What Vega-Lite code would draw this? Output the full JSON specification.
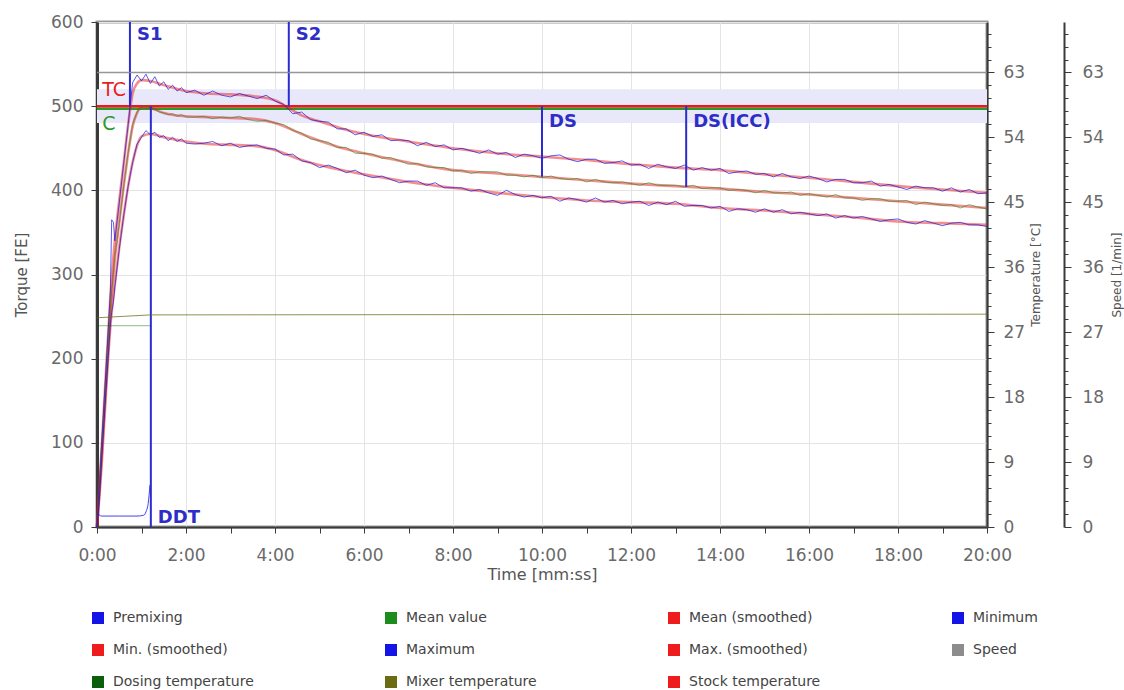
{
"$schema": "https://vega.github.io/schema/vega-lite/v6.json",
"width": 890,
"height": 505,
"autosize": {"type": "none"},
"padding": {"left": 97, "top": 22, "right": 137, "bottom": 163},
"background": "white",
"config": {
  "view": {"stroke": "#9a9a9a", "strokeWidth": 3},
  "axis": {"labelFont": "DejaVu Sans", "titleFont": "DejaVu Sans", "labelFontSize": 17, "titleFontSize": 14, "titleFontWeight": "normal", "labelColor": "#6a6a6a", "titleColor": "#555555", "domainColor": "#3a3a3a", "tickColor": "#3a3a3a", "gridColor": "#e4e4e4", "gridWidth": 1},
  "legend": {"labelFont": "DejaVu Sans", "labelFontSize": 14, "labelColor": "#444444"},
  "text": {"font": "DejaVu Sans"}
},
"layer": [
  {
    "layer": [
      {
        "data": {"values": [{"t0": 0, "t1": 20, "lo": 480, "hi": 520}]},
        "mark": {"type": "rect", "color": "#e9e8fa"},
        "encoding": {
          "x": {"field": "t0", "type": "quantitative", "scale": {"domain": [0, 20], "nice": false},
            "axis": {"title": "Time [mm:ss]", "values": [0,1,2,3,4,5,6,7,8,9,10,11,12,13,14,15,16,17,18,19,20], "labelExpr": "datum.value % 2 === 0 ? datum.value + ':00' : ''", "grid": true, "gridOpacity": {"condition": {"test": "datum.value % 2 === 0", "value": 1}, "value": 0}, "tickSize": 6, "labelPadding": 14, "titlePadding": 3, "labelFlush": false, "labelOverlap": false, "domainWidth": 2, "titleFontSize": 16}},
          "x2": {"field": "t1"},
          "y": {"field": "lo", "type": "quantitative", "scale": {"domain": [0, 600], "nice": false},
            "axis": {"title": "Torque [FE]", "values": [0,100,200,300,400,500,600], "grid": true, "tickSize": 6, "labelPadding": 8, "titlePadding": 21, "domainWidth": 3, "titleFontSize": 15, "labelOverlap": false}},
          "y2": {"field": "hi"}
        }
      },
      {
        "data": {"name": "premix", "values": [{"t":0.02,"p":16},{"t":0.1,"p":13},{"t":0.5,"p":13},{"t":0.9,"p":13},{"t":1.05,"p":14},{"t":1.1,"p":18},{"t":1.15,"p":28},{"t":1.19,"p":50}]},
        "mark": {"type": "point", "shape": "square", "filled": true, "size": 0, "opacity": 1},
        "encoding": {
          "x": {"field": "t", "type": "quantitative", "scale": {"domain": [0, 20], "nice": false}},
          "y": {"field": "p", "type": "quantitative", "scale": {"domain": [0, 600], "nice": false}},
          "color": {"datum": "Premixing", "type": "nominal",
            "scale": {"domain": ["Premixing","Mean value","Mean (smoothed)","Minimum","Min. (smoothed)","Maximum","Max. (smoothed)","Speed","Dosing temperature","Mixer temperature","Stock temperature"], "range": ["#1414e6","#1c8c1c","#ee1c1c","#1414e6","#ee1c1c","#1414e6","#ee1c1c","#8c8c8c","#0b5e0b","#6b6b14","#ee1c1c"]},
            "legend": {"orient": "none", "legendX": -6, "legendY": 589, "columns": 4, "direction": "horizontal", "symbolType": "square", "symbolSize": 144, "symbolOpacity": 1, "symbolStrokeWidth": 0, "gridAlign": "each", "columnPadding": 130, "rowPadding": 18, "labelOffset": 8}}
        }
      },
      {
        "data": {"values": [{"t": 0, "v": 497}, {"t": 20, "v": 497}]},
        "mark": {"type": "line", "stroke": "#2a9a2a", "strokeWidth": 2.5},
        "encoding": {
          "x": {"field": "t", "type": "quantitative", "scale": {"domain": [0, 20], "nice": false}},
          "y": {"field": "v", "type": "quantitative", "scale": {"domain": [0, 600], "nice": false}}
        }
      },
      {
        "data": {"values": [{"t": 0, "v": 500}, {"t": 20, "v": 500}]},
        "mark": {"type": "line", "stroke": "#f01818", "strokeWidth": 2.5},
        "encoding": {
          "x": {"field": "t", "type": "quantitative", "scale": {"domain": [0, 20], "nice": false}},
          "y": {"field": "v", "type": "quantitative", "scale": {"domain": [0, 600], "nice": false}}
        }
      },
      {
        "data": {"name": "smooth", "values": [
          {"t":0,"a":0,"m":0,"b":0},{"t":0.1,"a":90,"m":80,"b":70},{"t":0.2,"a":182,"m":168,"b":158},{"t":0.3,"a":272,"m":255,"b":238},
          {"t":0.4,"a":340,"m":318,"b":288},{"t":0.5,"a":388,"m":362,"b":332},{"t":0.6,"a":432,"m":405,"b":370},{"t":0.7,"a":478,"m":444,"b":405},
          {"t":0.8,"a":515,"m":476,"b":433},{"t":0.9,"a":527,"m":492,"b":453},{"t":1.0,"a":531,"m":499,"b":464},{"t":1.2,"a":530,"m":498,"b":467},
          {"t":1.5,"a":525,"m":492,"b":463},{"t":2.0,"a":518,"m":488,"b":458},{"t":2.5,"a":515,"m":487,"b":455},{"t":3.0,"a":514,"m":486,"b":454},
          {"t":3.5,"a":512,"m":485,"b":453},{"t":4.0,"a":507,"m":480,"b":448},{"t":4.3,"a":498,"m":474,"b":442},{"t":4.6,"a":489,"m":467,"b":436},
          {"t":5.0,"a":482,"m":459,"b":430},{"t":5.6,"a":472,"m":449,"b":423},{"t":6.0,"a":467,"m":444,"b":419},{"t":7.0,"a":458,"m":433,"b":410},
          {"t":8.0,"a":450,"m":424,"b":403},{"t":9.0,"a":444,"m":420,"b":397},{"t":10.0,"a":440,"m":416,"b":392},{"t":11.0,"a":436,"m":412,"b":388},
          {"t":12.0,"a":431,"m":408,"b":386},{"t":13.0,"a":427,"m":405,"b":384},{"t":14.0,"a":424,"m":402,"b":379},{"t":15.0,"a":419,"m":398,"b":376},
          {"t":16.0,"a":415,"m":395,"b":372},{"t":17.0,"a":410,"m":391,"b":368},{"t":18.0,"a":405,"m":387,"b":363},{"t":19.0,"a":401,"m":383,"b":361},
          {"t":20.0,"a":397,"m":379,"b":359}]},
        "layer": [
          {
            "mark": {"type": "line", "strokeWidth": 2.6, "strokeOpacity": 0.5, "interpolate": "monotone"},
            "encoding": {
              "x": {"field": "t", "type": "quantitative", "scale": {"domain": [0, 20], "nice": false}},
              "y": {"field": "a", "type": "quantitative", "scale": {"domain": [0, 600], "nice": false}},
              "color": {"datum": "Max. (smoothed)", "type": "nominal",
                "scale": {"domain": ["Premixing","Mean value","Mean (smoothed)","Minimum","Min. (smoothed)","Maximum","Max. (smoothed)","Speed","Dosing temperature","Mixer temperature","Stock temperature"], "range": ["#1414e6","#1c8c1c","#ee1c1c","#1414e6","#ee1c1c","#1414e6","#ee1c1c","#8c8c8c","#0b5e0b","#6b6b14","#ee1c1c"]}}
            }
          },
          {
            "mark": {"type": "line", "strokeWidth": 2.6, "strokeOpacity": 0.5, "interpolate": "monotone"},
            "encoding": {
              "x": {"field": "t", "type": "quantitative", "scale": {"domain": [0, 20], "nice": false}},
              "y": {"field": "m", "type": "quantitative", "scale": {"domain": [0, 600], "nice": false}},
              "color": {"datum": "Mean (smoothed)", "type": "nominal",
                "scale": {"domain": ["Premixing","Mean value","Mean (smoothed)","Minimum","Min. (smoothed)","Maximum","Max. (smoothed)","Speed","Dosing temperature","Mixer temperature","Stock temperature"], "range": ["#1414e6","#1c8c1c","#ee1c1c","#1414e6","#ee1c1c","#1414e6","#ee1c1c","#8c8c8c","#0b5e0b","#6b6b14","#ee1c1c"]}}
            }
          },
          {
            "mark": {"type": "line", "strokeWidth": 2.6, "strokeOpacity": 0.5, "interpolate": "monotone"},
            "encoding": {
              "x": {"field": "t", "type": "quantitative", "scale": {"domain": [0, 20], "nice": false}},
              "y": {"field": "b", "type": "quantitative", "scale": {"domain": [0, 600], "nice": false}},
              "color": {"datum": "Min. (smoothed)", "type": "nominal",
                "scale": {"domain": ["Premixing","Mean value","Mean (smoothed)","Minimum","Min. (smoothed)","Maximum","Max. (smoothed)","Speed","Dosing temperature","Mixer temperature","Stock temperature"], "range": ["#1414e6","#1c8c1c","#ee1c1c","#1414e6","#ee1c1c","#1414e6","#ee1c1c","#8c8c8c","#0b5e0b","#6b6b14","#ee1c1c"]}}
            }
          }
        ]
      },
      {
        "data": {"name": "noisy", "values": [
          {"t":0,"a":0,"m":0,"b":0},{"t":0.05,"a":45,"m":35,"b":30},{"t":0.1,"a":95,"m":85,"b":75},{"t":0.2,"a":185,"m":170,"b":160},
          {"t":0.3,"a":280,"m":260,"b":240},{"t":0.33,"a":365,"m":280,"b":255},{"t":0.37,"a":362,"m":300,"b":268},{"t":0.4,"a":340,"m":320,"b":285},
          {"t":0.5,"a":385,"m":360,"b":330},{"t":0.6,"a":432,"m":405,"b":370},{"t":0.7,"a":478,"m":445,"b":405},{"t":0.8,"a":528,"m":478,"b":433},
          {"t":0.9,"a":537,"m":493,"b":455},{"t":1.0,"a":530,"m":499,"b":463},{"t":1.1,"a":538,"m":501,"b":471},{"t":1.2,"a":527,"m":498,"b":466},
          {"t":1.3,"a":535,"m":496,"b":469},{"t":1.4,"a":524,"m":493,"b":463},{"t":1.5,"a":529,"m":492,"b":465},{"t":1.6,"a":520,"m":490,"b":459},
          {"t":1.7,"a":525,"m":491,"b":463},{"t":1.8,"a":518,"m":488,"b":458},{"t":1.9,"a":522,"m":490,"b":461},{"t":2.0,"a":516,"m":487,"b":456},
          {"t":2.2,"a":519,"m":487,"b":455},{"t":2.4,"a":513,"m":488,"b":456},{"t":2.6,"a":518,"m":485,"b":458},{"t":2.8,"a":513,"m":487,"b":453},
          {"t":3.0,"a":511,"m":486,"b":456},{"t":3.2,"a":515,"m":488,"b":451},{"t":3.4,"a":512,"m":484,"b":453},{"t":3.6,"a":509,"m":482,"b":454},
          {"t":3.8,"a":513,"m":483,"b":450},{"t":4.0,"a":506,"m":480,"b":449},{"t":4.2,"a":502,"m":478,"b":442},{"t":4.4,"a":491,"m":471,"b":443},
          {"t":4.6,"a":493,"m":468,"b":435},{"t":4.8,"a":484,"m":461,"b":433},{"t":5.0,"a":482,"m":459,"b":427},{"t":5.2,"a":481,"m":457,"b":430},
          {"t":5.4,"a":473,"m":451,"b":426},{"t":5.6,"a":473,"m":451,"b":421},{"t":5.8,"a":466,"m":444,"b":424},{"t":6.0,"a":469,"m":444,"b":418},
          {"t":6.2,"a":464,"m":443,"b":415},{"t":6.4,"a":466,"m":438,"b":417},{"t":6.6,"a":459,"m":439,"b":413},{"t":6.8,"a":460,"m":435,"b":409},
          {"t":7.0,"a":459,"m":431,"b":411},{"t":7.2,"a":453,"m":432,"b":411},{"t":7.4,"a":457,"m":428,"b":406},{"t":7.6,"a":452,"m":427,"b":409},
          {"t":7.8,"a":454,"m":427,"b":403},{"t":8.0,"a":448,"m":423,"b":403},{"t":8.2,"a":450,"m":424,"b":403},{"t":8.4,"a":447,"m":420,"b":399},
          {"t":8.6,"a":444,"m":422,"b":401},{"t":8.8,"a":448,"m":422,"b":397},{"t":9.0,"a":443,"m":422,"b":394},{"t":9.2,"a":445,"m":418,"b":400},
          {"t":9.4,"a":439,"m":418,"b":395},{"t":9.6,"a":443,"m":416,"b":392},{"t":9.8,"a":441,"m":418,"b":394},{"t":10.0,"a":438,"m":415,"b":391},
          {"t":10.2,"a":441,"m":417,"b":393},{"t":10.4,"a":442,"m":414,"b":387},{"t":10.6,"a":437,"m":413,"b":391},{"t":10.8,"a":434,"m":414,"b":389},
          {"t":11.0,"a":437,"m":410,"b":386},{"t":11.2,"a":437,"m":413,"b":391},{"t":11.4,"a":432,"m":410,"b":386},{"t":11.6,"a":433,"m":409,"b":388},
          {"t":11.8,"a":435,"m":410,"b":384},{"t":12.0,"a":430,"m":408,"b":386},{"t":12.2,"a":431,"m":406,"b":387},{"t":12.4,"a":426,"m":409,"b":382},
          {"t":12.6,"a":431,"m":406,"b":386},{"t":12.8,"a":428,"m":406,"b":383},{"t":13.0,"a":426,"m":406,"b":387},{"t":13.2,"a":430,"m":404,"b":381},
          {"t":13.4,"a":424,"m":406,"b":382},{"t":13.6,"a":427,"m":402,"b":382},{"t":13.8,"a":424,"m":403,"b":379},{"t":14.0,"a":426,"m":403,"b":381},
          {"t":14.2,"a":420,"m":400,"b":375},{"t":14.4,"a":422,"m":401,"b":378},{"t":14.6,"a":423,"m":400,"b":377},{"t":14.8,"a":419,"m":397,"b":374},
          {"t":15.0,"a":420,"m":400,"b":378},{"t":15.2,"a":416,"m":397,"b":374},{"t":15.4,"a":420,"m":397,"b":377},{"t":15.6,"a":416,"m":398,"b":372},
          {"t":15.8,"a":414,"m":394,"b":374},{"t":16.0,"a":417,"m":396,"b":372},{"t":16.2,"a":414,"m":394,"b":370},{"t":16.4,"a":410,"m":392,"b":372},
          {"t":16.6,"a":413,"m":395,"b":367},{"t":16.8,"a":413,"m":391,"b":370},{"t":17.0,"a":409,"m":391,"b":367},{"t":17.2,"a":409,"m":388,"b":369},
          {"t":17.4,"a":411,"m":390,"b":366},{"t":17.6,"a":405,"m":390,"b":363},{"t":17.8,"a":407,"m":387,"b":365},{"t":18.0,"a":404,"m":387,"b":366},
          {"t":18.2,"a":401,"m":388,"b":362},{"t":18.4,"a":405,"m":383,"b":360},{"t":18.6,"a":403,"m":386,"b":364},{"t":18.8,"a":403,"m":384,"b":361},
          {"t":19.0,"a":399,"m":382,"b":358},{"t":19.2,"a":403,"m":383,"b":361},{"t":19.4,"a":398,"m":379,"b":362},{"t":19.6,"a":401,"m":383,"b":359},
          {"t":19.8,"a":396,"m":380,"b":359},{"t":20.0,"a":397,"m":378,"b":357}]},
        "layer": [
          {
            "mark": {"type": "line", "strokeWidth": 1, "strokeOpacity": 0.7},
            "encoding": {
              "x": {"field": "t", "type": "quantitative", "scale": {"domain": [0, 20], "nice": false}},
              "y": {"field": "a", "type": "quantitative", "scale": {"domain": [0, 600], "nice": false}},
              "color": {"datum": "Maximum", "type": "nominal",
                "scale": {"domain": ["Premixing","Mean value","Mean (smoothed)","Minimum","Min. (smoothed)","Maximum","Max. (smoothed)","Speed","Dosing temperature","Mixer temperature","Stock temperature"], "range": ["#1414e6","#1c8c1c","#ee1c1c","#1414e6","#ee1c1c","#1414e6","#ee1c1c","#8c8c8c","#0b5e0b","#6b6b14","#ee1c1c"]}}
            }
          },
          {
            "mark": {"type": "line", "strokeWidth": 1, "strokeOpacity": 0.6},
            "encoding": {
              "x": {"field": "t", "type": "quantitative", "scale": {"domain": [0, 20], "nice": false}},
              "y": {"field": "m", "type": "quantitative", "scale": {"domain": [0, 600], "nice": false}},
              "color": {"datum": "Mean value", "type": "nominal",
                "scale": {"domain": ["Premixing","Mean value","Mean (smoothed)","Minimum","Min. (smoothed)","Maximum","Max. (smoothed)","Speed","Dosing temperature","Mixer temperature","Stock temperature"], "range": ["#1414e6","#1c8c1c","#ee1c1c","#1414e6","#ee1c1c","#1414e6","#ee1c1c","#8c8c8c","#0b5e0b","#6b6b14","#ee1c1c"]}}
            }
          },
          {
            "mark": {"type": "line", "strokeWidth": 1, "strokeOpacity": 0.7},
            "encoding": {
              "x": {"field": "t", "type": "quantitative", "scale": {"domain": [0, 20], "nice": false}},
              "y": {"field": "b", "type": "quantitative", "scale": {"domain": [0, 600], "nice": false}},
              "color": {"datum": "Minimum", "type": "nominal",
                "scale": {"domain": ["Premixing","Mean value","Mean (smoothed)","Minimum","Min. (smoothed)","Maximum","Max. (smoothed)","Speed","Dosing temperature","Mixer temperature","Stock temperature"], "range": ["#1414e6","#1c8c1c","#ee1c1c","#1414e6","#ee1c1c","#1414e6","#ee1c1c","#8c8c8c","#0b5e0b","#6b6b14","#ee1c1c"]}}
            }
          }
        ]
      },
      {
        "data": {"name": "premix2", "values": [{"t":0.02,"p":16},{"t":0.1,"p":13},{"t":0.5,"p":13},{"t":0.9,"p":13},{"t":1.05,"p":14},{"t":1.1,"p":18},{"t":1.15,"p":28},{"t":1.19,"p":50}]},
        "mark": {"type": "line", "strokeWidth": 1, "interpolate": "monotone", "strokeOpacity": 0.8},
        "encoding": {
          "x": {"field": "t", "type": "quantitative", "scale": {"domain": [0, 20], "nice": false}},
          "y": {"field": "p", "type": "quantitative", "scale": {"domain": [0, 600], "nice": false}},
          "color": {"datum": "Premixing", "type": "nominal",
            "scale": {"domain": ["Premixing","Mean value","Mean (smoothed)","Minimum","Min. (smoothed)","Maximum","Max. (smoothed)","Speed","Dosing temperature","Mixer temperature","Stock temperature"], "range": ["#1414e6","#1c8c1c","#ee1c1c","#1414e6","#ee1c1c","#1414e6","#ee1c1c","#8c8c8c","#0b5e0b","#6b6b14","#ee1c1c"]}}
        }
      },
      {
        "data": {"name": "markers", "values": [
          {"t": 0.74, "y1": 500, "y2": 600, "label": "S1", "ly": 584},
          {"t": 4.31, "y1": 500, "y2": 600, "label": "S2", "ly": 584},
          {"t": 1.21, "y1": 0, "y2": 500, "label": "DDT", "ly": 11},
          {"t": 10.0, "y1": 416, "y2": 500, "label": "DS", "ly": 481},
          {"t": 13.24, "y1": 404, "y2": 500, "label": "DS(ICC)", "ly": 481}]},
        "layer": [
          {
            "mark": {"type": "rule", "stroke": "#2b2bd0", "strokeWidth": 2},
            "encoding": {
              "x": {"field": "t", "type": "quantitative", "scale": {"domain": [0, 20], "nice": false}},
              "y": {"field": "y1", "type": "quantitative", "scale": {"domain": [0, 600], "nice": false}},
              "y2": {"field": "y2"}
            }
          },
          {
            "mark": {"type": "text", "align": "left", "baseline": "middle", "dx": 7, "fontSize": 18, "fontWeight": "bold", "color": "#2d2dc8"},
            "encoding": {
              "x": {"field": "t", "type": "quantitative", "scale": {"domain": [0, 20], "nice": false}},
              "y": {"field": "ly", "type": "quantitative", "scale": {"domain": [0, 600], "nice": false}},
              "text": {"field": "label"}
            }
          }
        ]
      },
      {
        "data": {"values": [{"t": 0.12, "ly": 519, "label": "TC", "c": "r"}, {"t": 0.12, "ly": 479, "label": "C", "c": "g"}]},
        "mark": {"type": "text", "align": "left", "baseline": "middle", "fontSize": 19},
        "encoding": {
          "x": {"field": "t", "type": "quantitative", "scale": {"domain": [0, 20], "nice": false}},
          "y": {"field": "ly", "type": "quantitative", "scale": {"domain": [0, 600], "nice": false}},
          "text": {"field": "label"},
          "fill": {"field": "c", "type": "nominal", "scale": {"domain": ["r", "g"], "range": ["#e81e1e", "#2a9a2a"]}, "legend": null}
        }
      }
    ]
  },
  {
    "layer": [
      {
        "data": {"values": [{"t": 0, "temp": 29.0}, {"t": 0.6, "temp": 29.2}, {"t": 1.2, "temp": 29.4}, {"t": 20, "temp": 29.5}]},
        "mark": {"type": "line", "strokeWidth": 1, "strokeOpacity": 0.75},
        "encoding": {
          "x": {"field": "t", "type": "quantitative", "scale": {"domain": [0, 20], "nice": false}},
          "y": {"field": "temp", "type": "quantitative", "scale": {"domain": [0, 70], "nice": false},
            "axis": {"orient": "right", "title": "Temperature [°C]", "values": [0,1.8,3.6,5.4,7.2,9,10.8,12.6,14.4,16.2,18,19.8,21.6,23.4,25.2,27,28.8,30.6,32.4,34.2,36,37.8,39.6,41.4,43.2,45,46.8,48.6,50.4,52.2,54,55.8,57.6,59.4,61.2,63,64.8,66.6,68.4],
              "labelExpr": "abs(datum.value/9 - round(datum.value/9)) < 0.01 ? format(datum.value, 'd') : ''",
              "tickSize": {"condition": {"test": "abs(datum.value/9 - round(datum.value/9)) < 0.01", "value": 7}, "value": 4},
              "labelPadding": 9, "titlePadding": 6, "titleAngle": 270, "titleBaseline": "top", "titleFontSize": 12, "domainWidth": 2, "grid": false, "labelOverlap": false}},
          "color": {"datum": "Mixer temperature", "type": "nominal",
            "scale": {"domain": ["Premixing","Mean value","Mean (smoothed)","Minimum","Min. (smoothed)","Maximum","Max. (smoothed)","Speed","Dosing temperature","Mixer temperature","Stock temperature"], "range": ["#1414e6","#1c8c1c","#ee1c1c","#1414e6","#ee1c1c","#1414e6","#ee1c1c","#8c8c8c","#0b5e0b","#6b6b14","#ee1c1c"]}}
        }
      },
      {
        "data": {"values": [{"t": 0, "temp": 27.9}, {"t": 1.2, "temp": 27.9}]},
        "mark": {"type": "line", "strokeWidth": 1, "strokeOpacity": 0.45},
        "encoding": {
          "x": {"field": "t", "type": "quantitative", "scale": {"domain": [0, 20], "nice": false}},
          "y": {"field": "temp", "type": "quantitative", "scale": {"domain": [0, 70], "nice": false},
            "axis": {"orient": "right", "title": "Temperature [°C]", "values": [0,1.8,3.6,5.4,7.2,9,10.8,12.6,14.4,16.2,18,19.8,21.6,23.4,25.2,27,28.8,30.6,32.4,34.2,36,37.8,39.6,41.4,43.2,45,46.8,48.6,50.4,52.2,54,55.8,57.6,59.4,61.2,63,64.8,66.6,68.4],
              "labelExpr": "abs(datum.value/9 - round(datum.value/9)) < 0.01 ? format(datum.value, 'd') : ''",
              "tickSize": {"condition": {"test": "abs(datum.value/9 - round(datum.value/9)) < 0.01", "value": 7}, "value": 4},
              "labelPadding": 9, "titlePadding": 6, "titleAngle": 270, "titleBaseline": "top", "titleFontSize": 12, "domainWidth": 2, "grid": false, "labelOverlap": false}},
          "color": {"datum": "Dosing temperature", "type": "nominal",
            "scale": {"domain": ["Premixing","Mean value","Mean (smoothed)","Minimum","Min. (smoothed)","Maximum","Max. (smoothed)","Speed","Dosing temperature","Mixer temperature","Stock temperature"], "range": ["#1414e6","#1c8c1c","#ee1c1c","#1414e6","#ee1c1c","#1414e6","#ee1c1c","#8c8c8c","#0b5e0b","#6b6b14","#ee1c1c"]}}
        }
      }
    ]
  },
  {
    "data": {"values": [{"t": 0, "speed": 63}, {"t": 20, "speed": 63}]},
    "mark": {"type": "line", "strokeWidth": 1.5, "strokeOpacity": 0.9},
    "encoding": {
      "x": {"field": "t", "type": "quantitative", "scale": {"domain": [0, 20], "nice": false}},
      "y": {"field": "speed", "type": "quantitative", "scale": {"domain": [0, 70], "nice": false},
        "axis": {"orient": "right", "offset": 77, "title": "Speed [1/min]", "values": [0,1.8,3.6,5.4,7.2,9,10.8,12.6,14.4,16.2,18,19.8,21.6,23.4,25.2,27,28.8,30.6,32.4,34.2,36,37.8,39.6,41.4,43.2,45,46.8,48.6,50.4,52.2,54,55.8,57.6,59.4,61.2,63,64.8,66.6,68.4],
          "labelExpr": "abs(datum.value/9 - round(datum.value/9)) < 0.01 ? format(datum.value, 'd') : ''",
          "tickSize": {"condition": {"test": "abs(datum.value/9 - round(datum.value/9)) < 0.01", "value": 7}, "value": 4},
          "labelPadding": 11, "titlePadding": 8, "titleAngle": 270, "titleBaseline": "top", "titleFontSize": 12, "domainWidth": 2, "grid": false, "labelOverlap": false}},
      "color": {"datum": "Speed", "type": "nominal",
        "scale": {"domain": ["Premixing","Mean value","Mean (smoothed)","Minimum","Min. (smoothed)","Maximum","Max. (smoothed)","Speed","Dosing temperature","Mixer temperature","Stock temperature"], "range": ["#1414e6","#1c8c1c","#ee1c1c","#1414e6","#ee1c1c","#1414e6","#ee1c1c","#8c8c8c","#0b5e0b","#6b6b14","#ee1c1c"]}}
    }
  }
],
"resolve": {"scale": {"y": "independent"}, "axis": {"y": "independent"}}
}
